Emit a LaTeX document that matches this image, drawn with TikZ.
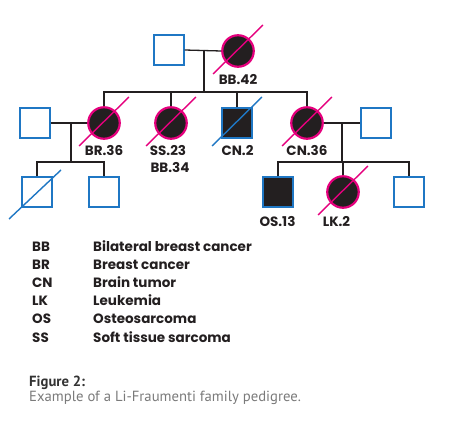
\documentclass[tikz,border=0pt]{standalone}
\usepackage{fontspec}
\setmainfont{Poppins}
\newfontfamily\capfont{PT Sans}
\usetikzlibrary{calc}
\definecolor{pedblue}{HTML}{1F77C4}
\definecolor{pedpink}{HTML}{E5007D}
\definecolor{pedblack}{HTML}{231F20}
\definecolor{capgray}{HTML}{7A7A7A}
\definecolor{capdark}{HTML}{333333}
\begin{document}
\begin{tikzpicture}[x=1pt,y=-1pt,
  male/.style={rectangle,draw=pedblue,line width=1.7pt,minimum size=29.5pt,inner sep=0pt,fill=white},
  malea/.style={male,fill=pedblack},
  female/.style={circle,draw=pedpink,line width=2.2pt,minimum size=31.5pt,inner sep=0pt,fill=pedblack},
  link/.style={draw=pedblack,line width=1.3pt},
  slashp/.style={draw=pedpink,line width=1.4pt},
  slashb/.style={draw=pedblue,line width=1.4pt},
  lbl/.style={font=\bfseries\fontsize{13.5}{15}\selectfont,text=pedblack,inner sep=0pt},
  leg/.style={font=\bfseries\fontsize{13.5}{15}\selectfont,text=pedblack,inner sep=0pt,anchor=base west},
]
\useasboundingbox (0,0) rectangle (461,422);
% generation I
\node[male] (gf) at (169,50) {};
\node[female] (gm) at (238,51) {};
\draw[slashp] ([shift={(-25,23)}]gm.center) -- ([shift={(25,-26)}]gm.center);
\node[lbl] (lgm) at (238,80) {BB.42};
\coordinate (m1) at (204,50);
\coordinate (s1) at (204,92);
% generation II
\node[male] (sp1) at (35,123) {};
\node[female] (br) at (104,123) {};
\node[female] (ss) at (171,123) {};
\node[malea] (cn) at (237,123) {};
\node[female] (cn36) at (307,123) {};
\node[male] (sp2) at (376,123) {};
\draw[slashp] ([shift={(-25,23)}]br.center) -- ([shift={(25,-26)}]br.center);
\draw[slashp] ([shift={(-25,23)}]ss.center) -- ([shift={(25,-26)}]ss.center);
\draw[slashb] ([shift={(-25,23)}]cn.center) -- ([shift={(25,-26)}]cn.center);
\draw[slashp] ([shift={(-25,23)}]cn36.center) -- ([shift={(25,-26)}]cn36.center);
\node[lbl] (lbr) at (104,151) {BR.36};
\node[lbl] (lss) at (168,151) {SS.23};
\node[lbl] (lss2) at (170,168) {BB.34};
\node[lbl] (lcn) at (237.5,151) {CN.2};
\node[lbl] (lcn36) at (307,151) {CN.36};
\coordinate (m2) at (71,123);
\coordinate (s2) at (71,162);
\coordinate (m3) at (342,123);
\coordinate (s3) at (342,162);
% generation III
\node[male] (g1) at (37,192) {};
\node[male] (g2) at (104,192) {};
\draw[slashb] ([shift={(-28,27)}]g1.center) -- ([shift={(24,-22)}]g1.center);
\node[malea] (os) at (278,192) {};
\node[female] (lk) at (343,192) {};
\node[male] (g5) at (409,192) {};
\draw[slashp] ([shift={(-25,23)}]lk.center) -- ([shift={(25,-26)}]lk.center);
\node[lbl] (los) at (277.5,222) {OS.13};
\node[lbl] (llk) at (336.5,222) {LK.2};
% connectors
\draw[link] (gf.east) -- (gm.west);
\draw[link] (m1) -- (s1);
\draw[link] (br.north) |- (s1) -| (cn36.north);
\draw[link] (ss.north) -- (ss.north |- s1);
\draw[link] (cn.north) -- (cn.north |- s1);
\draw[link] (sp1.east) -- (br.west);
\draw[link] (m2) -- (s2);
\draw[link] (g1.north) |- (s2) -| (g2.north);
\draw[link] (cn36.east) -- (sp2.west);
\draw[link] (m3) -- (s3);
\draw[link] (os.north) |- (s3) -| (g5.north);
\draw[link] (lk.north) -- (lk.north |- s3);
% legend
\node[leg] (a1) at (32,252) {BB};   \node[leg] (d1) at (93,252) {Bilateral breast cancer};
\node[leg] (a2) at (32,270) {BR};   \node[leg] (d2) at (93,270) {Breast cancer};
\node[leg] (a3) at (32,288) {CN};   \node[leg] (d3) at (93,288) {Brain tumor};
\node[leg] (a4) at (32,306) {LK};   \node[leg] (d4) at (93,306) {Leukemia};
\node[leg] (a5) at (32,324) {OS};   \node[leg] (d5) at (93,324) {Osteosarcoma};
\node[leg] (a6) at (32,342) {SS};   \node[leg] (d6) at (93,342) {Soft tissue sarcoma};
% caption
\node[font=\capfont\bfseries\fontsize{14.7}{16}\selectfont,text=capdark,inner sep=0pt,anchor=base west] (cap1) at (29,386) {Figure 2:};
\node[font=\capfont\fontsize{14.7}{16}\selectfont,text=capgray,inner sep=0pt,anchor=base west] (cap2) at (29,402) {Example of a Li-Fraumenti family pedigree.};
\end{tikzpicture}
\end{document}
